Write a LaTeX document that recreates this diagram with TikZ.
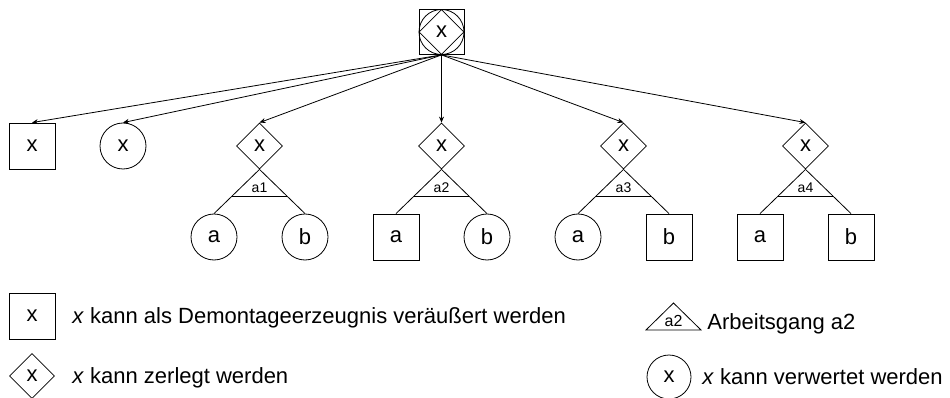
\documentclass[tikz,border=0pt]{standalone}
\usepackage{fontspec}
\setmainfont{Liberation Sans}
\usetikzlibrary{arrows.meta,calc,shapes.geometric}
\tikzset{
  knot/.style={draw,inner sep=0pt,minimum size=46pt,font=\fontsize{22}{26}\selectfont},
  sqknot/.style={knot,rectangle},
  ciknot/.style={knot,circle},
  diknot/.style={knot,diamond,aspect=1},
  oplabel/.style={inner sep=0pt,anchor=base,font=\fontsize{14}{16}\selectfont},
  legtext/.style={anchor=base west,inner sep=0pt,font=\fontsize{22}{26}\selectfont}
}

\begin{document}
\begin{tikzpicture}[x=1pt,y=-1pt,line width=0.8pt,>={Stealth[length=6pt,width=5pt]}]
    \useasboundingbox (0,0) rectangle (950,398);
    % wurzel
    \node[sqknot,minimum size=45pt] (root) at (441.5,32) {x};
    \node[ciknot,minimum size=45pt] (rootci) at (root.center) {};
    \node[diknot,minimum size=45pt] (rootdi) at (root.center) {};
    % erste ebene
    \node[sqknot] (s1) at (32,146) {x};
    \node[ciknot] (c1) at (123,146) {x};
    \foreach \i/\px/\la/\lb in {1/259.5/circle/circle,2/441.5/rectangle/circle,
                               3/623.5/circle/rectangle,4/805.5/rectangle/rectangle}{
      \node[diknot] (d\i) at (\px,146) {x};
      \node[knot,shape=\la] (a\i) at (\px-45.5,237) {a};
      \node[knot,shape=\lb] (b\i) at (\px+45.5,237) {b};
      \draw (d\i.south) -- (a\i.north);
      \draw (d\i.south) -- (b\i.north);
      \draw ($(d\i.south)!0.6!(a\i.north)$) coordinate (l\i) -- ($(d\i.south)!0.6!(b\i.north)$) coordinate (r\i);
      \node[oplabel] (o\i) at ($(l\i)!0.5!(r\i)+(0,-3)$) {a\i};
    }
    \foreach \t in {s1,c1,d1,d2,d3,d4}
      \draw[->] (root.south) -- (\t.north);
    % legende
    \node[sqknot] (legsq) at (32,316) {x};
    \node[legtext] (legsqtext) at (72,323) {\textit{x} kann als Demontageerzeugnis veräußert werden};
    \node[diknot,minimum size=45pt] (legdi) at (32,376) {x};
    \node[legtext] (legditext) at (72,383) {\textit{x} kann zerlegt werden};
    \draw (646,330) -- (673.5,303) -- (701,330) -- cycle;
    \node[oplabel,font=\fontsize{16}{18}\selectfont] (legop) at (673.5,326) {a2};
    \node[legtext] (legoptext) at (707,329) {Arbeitsgang a2};
    \node[ciknot,minimum size=44pt] (legci) at (669,377) {x};
    \node[legtext] (legcitext) at (702,384) {\textit{x} kann verwertet werden};
\end{tikzpicture}
\end{document}
